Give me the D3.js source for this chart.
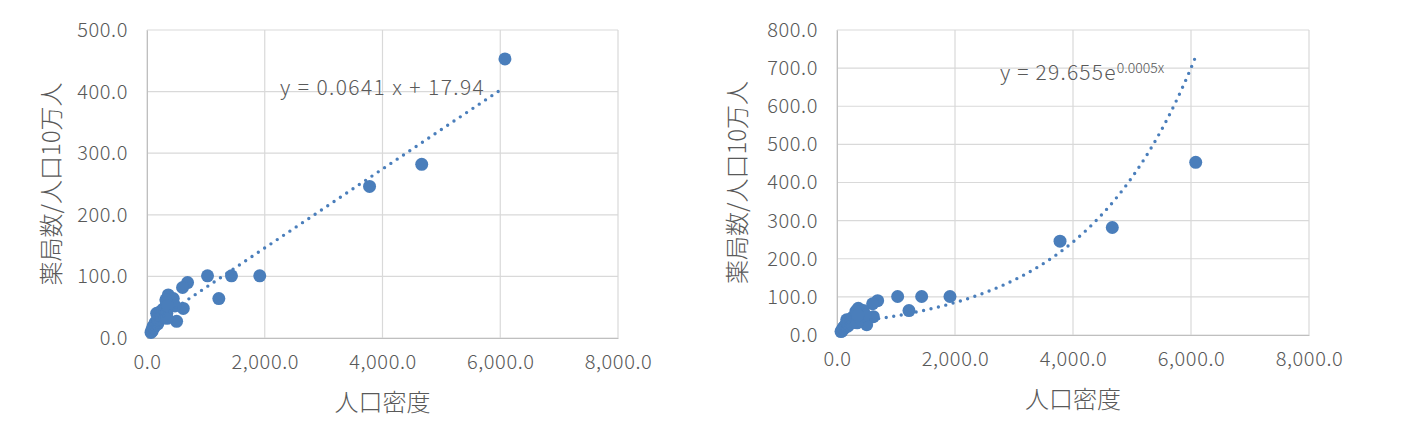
<!DOCTYPE html>
<meta charset="utf-8">
<script src="https://d3js.org/d3.v7.min.js"></script>
<style>
  body { margin: 0; background: #fff; }
  text { font-family: "Noto Sans CJK JP", "Noto Sans", sans-serif; font-weight: 300; fill: #595959; }
</style>
<div id="my_dataviz"></div>
<script>

// population density (x) and pharmacies per 100k (y), one entry per prefecture
var density = [6080, 4666, 3780, 1915, 1435, 1028, 1220, 689, 604, 616, 503, 361, 446, 475,
  68, 84, 87, 102, 104, 120, 136, 139, 143, 155, 164, 179, 182, 183, 183, 188, 188, 193,
  204, 230, 240, 244, 250, 270, 276, 308, 308, 314, 320, 335, 336, 341, 352];
var pharmacies = [453, 282, 246, 101, 101, 101, 64, 90, 82, 48, 27, 70, 64, 52,
  9, 13, 11, 16, 19, 17, 22, 25, 21, 24, 40, 27, 38, 23, 30, 26, 33, 29,
  36, 31, 39, 44, 35, 42, 47, 33, 45, 50, 62, 57, 40, 32, 52];

var xTicks = [0, 2000, 4000, 6000, 8000];
var yTicksLin = [0, 100, 200, 300, 400, 500];
var yTicksExp = [0, 100, 200, 300, 400, 500, 600, 700, 800];

// trendline coefficients shown on the charts
var linSlope = 0.0641, linIntercept = 17.94;
var expA = 29.655, expK = 0.000527;

var xLabel = "人口密度";
var yLabel = "薬局数/人口10万人";

var blue = "#4a7ebb";
var data = density.map(function(d, i) { return {x: d, y: pharmacies[i]}; });
var xExtent = d3.extent(density);

var svg = d3.select("#my_dataviz")
  .append("svg")
  .attr("width", 1412)
  .attr("height", 428);

function drawPanel(opt) {
  var x = d3.scaleLinear().domain([0, 8000]).range([opt.left, opt.right]);
  var y = d3.scaleLinear().domain([0, opt.ymax]).range([opt.bottom, opt.top]);
  var g = svg.append("g");

  // grid
  g.selectAll(".hgrid").data(opt.yTicks).enter().append("line")
    .attr("x1", opt.left).attr("x2", opt.right)
    .attr("y1", function(d) { return y(d); }).attr("y2", function(d) { return y(d); })
    .style("stroke", "#d9d9d9").style("stroke-width", 1.2);
  g.selectAll(".vgrid").data(xTicks).enter().append("line")
    .attr("y1", opt.top).attr("y2", opt.bottom)
    .attr("x1", function(d) { return x(d); }).attr("x2", function(d) { return x(d); })
    .style("stroke", "#d9d9d9").style("stroke-width", 1.2);

  // axes
  var xAxis = g.append("g")
    .attr("transform", "translate(0," + opt.bottom + ")")
    .call(d3.axisBottom(x).tickValues(xTicks).tickFormat(d3.format(",.1f")).tickSize(0).tickPadding(17));
  xAxis.select(".domain").style("stroke", "#bfbfbf");
  var yAxis = g.append("g")
    .attr("transform", "translate(" + opt.left + ",0)")
    .call(d3.axisLeft(y).tickValues(opt.yTicks).tickFormat(d3.format(".1f")).tickSize(0).tickPadding(19));
  yAxis.select(".domain").style("stroke", "#bfbfbf");
  g.selectAll(".tick text").style("font-size", "20px").style("fill", "#595959")
    .style("font-family", "'Noto Sans CJK JP', sans-serif").style("font-weight", 300)
    .style("letter-spacing", "0.6px");

  // axis titles
  g.append("text")
    .attr("x", (opt.left + opt.right) / 2).attr("y", opt.bottom + 73)
    .attr("text-anchor", "middle").style("font-size", "24px")
    .text(xLabel);
  g.append("text")
    .attr("transform", "translate(" + opt.titleX + "," + ((opt.top + opt.bottom) / 2) + ") rotate(-90)")
    .attr("text-anchor", "middle").style("font-size", "24px")
    .text(yLabel);

  // points
  g.selectAll(".pt").data(data).enter().append("circle")
    .attr("cx", function(d) { return x(d.x); })
    .attr("cy", function(d) { return y(d.y); })
    .attr("r", 6.5)
    .style("fill", blue);

  // trendline
  var xs = d3.range(xExtent[0], xExtent[1] + 1, 20);
  var line = d3.line()
    .x(function(d) { return x(d); })
    .y(function(d) { return y(opt.fit(d)); });
  g.append("path")
    .attr("d", line(xs))
    .style("fill", "none")
    .style("stroke", blue)
    .style("stroke-width", 3.4)
    .style("stroke-linecap", "round")
    .style("stroke-dasharray", "0,7.6");

  return g;
}

var left = drawPanel({left: 147, right: 618, top: 30, bottom: 338, ymax: 500, yTicks: yTicksLin,
  titleX: 60, fit: function(v) { return linSlope * v + linIntercept; }});
left.append("text")
  .attr("x", 280).attr("y", 95)
  .style("font-size", "21px")
  .style("letter-spacing", "1.4px")
  .text("y = 0.0641 x + 17.94");

var right = drawPanel({left: 837, right: 1309, top: 30, bottom: 335, ymax: 800, yTicks: yTicksExp,
  titleX: 746, fit: function(v) { return expA * Math.exp(expK * v); }});
var eq = right.append("text")
  .attr("x", 1000).attr("y", 80)
  .style("font-size", "21px")
  .style("letter-spacing", "1.2px");
eq.append("tspan").text("y = 29.655e");
eq.append("tspan").attr("dy", -7).style("font-size", "14px").style("letter-spacing", "0px").text("0.0005x");

</script>
